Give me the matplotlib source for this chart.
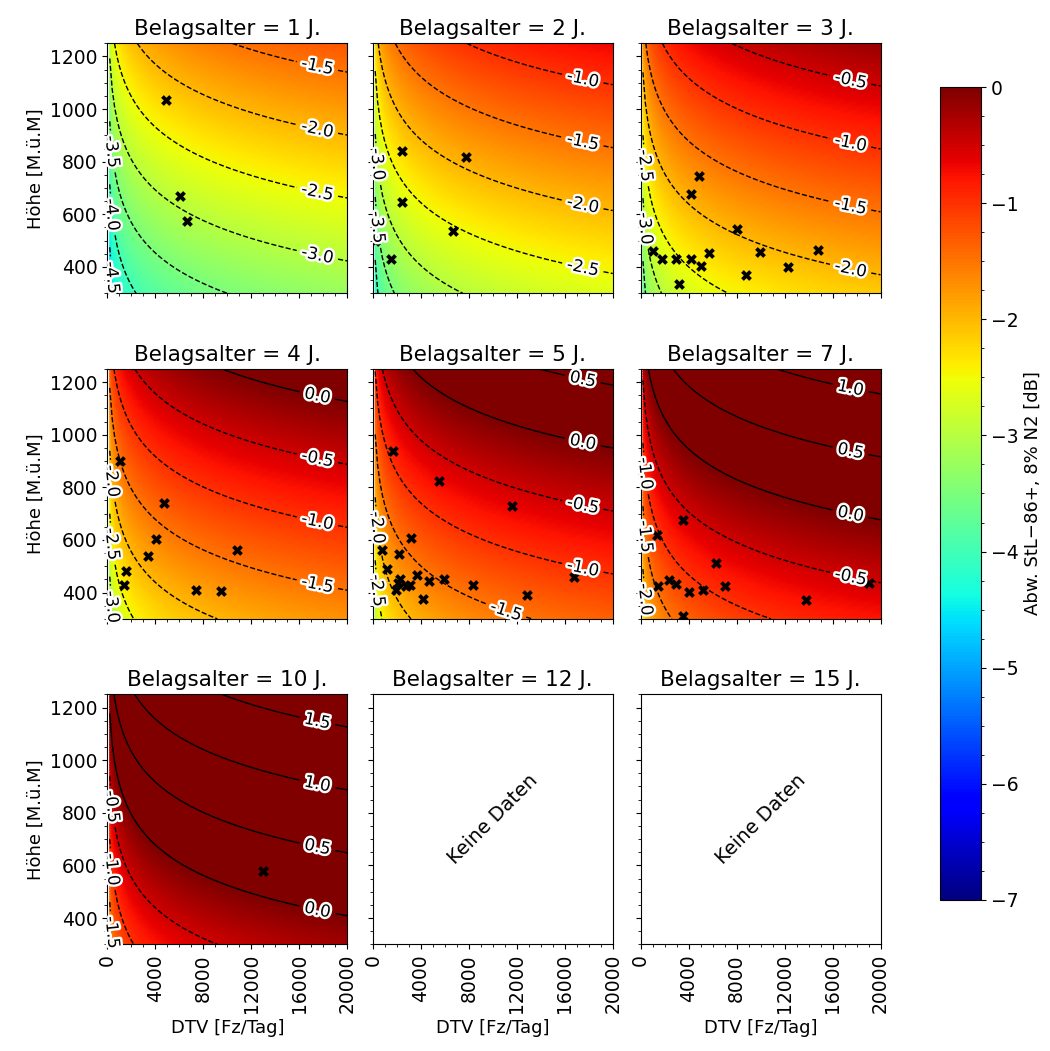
import numpy as np
import matplotlib.pyplot as plt
import matplotlib.patheffects as pe
from matplotlib.ticker import MultipleLocator

plt.rcParams['font.family'] = ['DejaVu Sans']

belagsalter = [1, 2, 3, 4, 5, 7, 10, 12, 15]

# Modell: Abw = a(Alter) + b*ln(DTV) + c*Hoehe
achsenabschnitt = [-7.35, -6.75, -6.24, -5.82, -5.45, -4.88, -4.32, None, None]
koef_ln_dtv = 0.35
koef_hoehe = 0.00209

# Messpunkte je Belagsalter
punkte_dtv = [
    [4870, 6060, 6670],
    [2460, 7730, 2410, 6700, 190, 1520],
    [4910, 4230, 8020, 14810, 1060, 1770, 2970, 4230, 5690, 5070, 9980, 12290, 8780, 3170],
    [1060, 4750, 4060, 3370, 1560, 1390, 10830, 7370, 9450],
    [1660, 5540, 11580, 16760, 3190, 750, 2160, 1200, 2300, 2080, 1940, 2770, 3100,
     3690, 4710, 5900, 4150, 8370, 12880],
    [3520, 1390, 6310, 1470, 2360, 2990, 4010, 5200, 7050, 13830, 19000, 3540],
    [12980],
    [],
    [],
]
punkte_hoehe = [
    [1033, 670, 575],
    [842, 818, 646, 537, 500, 430],
    [747, 677, 543, 464, 461, 432, 432, 430, 454, 403, 455, 400, 371, 336],
    [899, 742, 603, 539, 482, 428, 561, 409, 405],
    [937, 825, 727, 459, 606, 561, 545, 491, 452, 437, 409, 425, 430,
     466, 443, 451, 374, 428, 389],
    [676, 619, 513, 425, 447, 434, 403, 409, 425, 370, 435, 310],
    [580],
    [],
    [],
]

# Raster wie im Original: DTV = 0 entfaellt (ln 0)
dtv = np.linspace(0, 20000, 100)[1:]
hoehe = np.linspace(300, 1250, 100)
DTV, H = np.meshgrid(dtv, hoehe)
stufen = np.arange(-7, 3.01, 0.5)


def label_orte(a, levels):
    # Beschriftung am rechten Rand, am unteren Rand oder am linken Rand
    b, c = koef_ln_dtv, koef_hoehe
    orte = []
    for lev in levels:
        h_r = (lev - a - b * np.log(17500)) / c
        h_l = (lev - a - b * np.log(400)) / c
        x_u = np.exp((lev - a - c * 330) / b)
        if 330 < h_r < 1215:
            orte.append((17500, h_r))
        elif 10000 < x_u < 17500:
            orte.append((x_u, 330))
        elif 330 < h_l < 1215:
            orte.append((400, h_l))
    return orte


fig = plt.figure(figsize=(10.5, 10.51), dpi=100)
lefts = [0.1022, 0.355, 0.610]
bottoms = [0.721, 0.4112, 0.1015]
w, h = 0.2286, 0.2378

mesh = None
for i, alter in enumerate(belagsalter):
    row, col = divmod(i, 3)
    ax = fig.add_axes([lefts[col], bottoms[row], w, h])
    a = achsenabschnitt[i]
    ax.set_xlim(0, 20000)
    ax.set_ylim(300, 1250)
    if a is not None:
        Z = a + koef_ln_dtv * np.log(DTV) + koef_hoehe * H
        mesh = ax.pcolormesh(DTV, H, Z, cmap='jet', vmin=-7, vmax=0, shading='gouraud')
        cs = ax.contour(DTV, H, Z, levels=stufen, colors='k', linewidths=1.0)
        labels = ax.clabel(cs, fmt='%.1f', fontsize=12,
                           manual=label_orte(a, cs.levels))
        for t in labels:
            t.set_path_effects([pe.withStroke(linewidth=3.5, foreground='white')])
            t.set_clip_on(False)
            t.set_zorder(4)
        ax.scatter(punkte_dtv[i], punkte_hoehe[i], marker='X', c='k', s=60,
                   linewidths=0, zorder=3)
    else:
        ax.text(0.5, 0.5, 'Keine Daten', rotation=45, ha='center', va='center',
                transform=ax.transAxes, fontsize=14)
    ax.set_title(f'Belagsalter = {alter} J.', fontsize=15.5)
    ax.set_xticks(np.arange(0, 20001, 4000))
    ax.xaxis.set_minor_locator(MultipleLocator(1000))
    ax.set_yticks(np.arange(400, 1201, 200))
    ax.yaxis.set_minor_locator(MultipleLocator(50))
    ax.tick_params(labelsize=13.5)
    if col == 0:
        ax.set_ylabel('Höhe [M.ü.M]', fontsize=13)
    else:
        ax.set_yticklabels([])
    if row == 2:
        ax.set_xlabel('DTV [Fz/Tag]', fontsize=13)
        ax.tick_params(axis='x', labelrotation=90)
    else:
        ax.set_xticklabels([])

cax = fig.add_axes([0.8952, 0.1437, 0.039, 0.7735])
cb = fig.colorbar(mesh, cax=cax)
cb.set_ticks(np.arange(-7, 1, 1))
cb.ax.yaxis.set_minor_locator(MultipleLocator(0.25))
cb.ax.tick_params(labelsize=13.5)
cb.set_label('Abw. StL\u221286+, 8% N2 [dB]', fontsize=13)

fig.savefig('out.png', dpi=100)
